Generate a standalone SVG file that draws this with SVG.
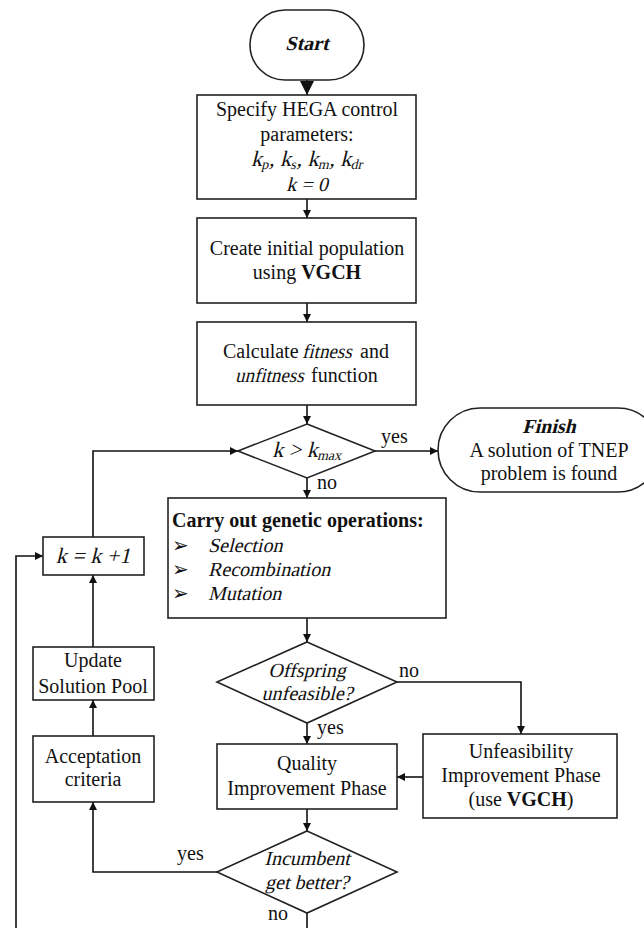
<svg xmlns="http://www.w3.org/2000/svg" width="644" height="928" viewBox="0 0 644 928" font-family="'Liberation Serif', 'DejaVu Serif', serif">
<defs>
<marker id="ah" viewBox="0 0 10 10" refX="10" refY="5" markerWidth="9" markerHeight="8" markerUnits="userSpaceOnUse" orient="auto"><path d="M0,0 L10,5 L0,10 z" fill="#111"/></marker>
<marker id="ahb" viewBox="0 0 10 10" refX="10" refY="5" markerWidth="14" markerHeight="14" markerUnits="userSpaceOnUse" orient="auto"><path d="M0,0 L10,5 L0,10 z" fill="#111"/></marker>
</defs>
<style>
.s{fill:#fff;stroke:#222;stroke-width:1.6}
.c{fill:none;stroke:#111;stroke-width:1.6;marker-end:url(#ah)}
.n{fill:none;stroke:#111;stroke-width:1.6}
text{font-family:'Liberation Serif','DejaVu Serif',serif;font-size:20px;fill:#111}
.m{text-anchor:middle}
.b{font-weight:bold}
.sub{font-size:14px}
.big{font-size:22px}
</style>
<rect width="644" height="928" fill="#fff"/>
<g id="connectors">
<line class="n" x1="307" y1="80" x2="307" y2="95" style="marker-end:url(#ahb)"/>
<line class="c" x1="307" y1="199" x2="307" y2="218"/>
<line class="c" x1="307" y1="303" x2="307" y2="322"/>
<line class="c" x1="307" y1="405" x2="307" y2="424"/>
<line class="c" x1="375" y1="451" x2="438" y2="451"/>
<line class="c" x1="307" y1="478" x2="307" y2="498"/>
<line class="c" x1="307" y1="618" x2="307" y2="642"/>
<path class="c" d="M397,682 H521 V734"/>
<line class="c" x1="307" y1="723" x2="307" y2="744"/>
<line class="c" x1="423" y1="777" x2="397" y2="777"/>
<line class="c" x1="307" y1="809" x2="307" y2="831"/>
<path class="c" d="M217,872 H93 V802"/>
<line class="c" x1="93" y1="736" x2="93" y2="700"/>
<line class="c" x1="93" y1="647" x2="93" y2="575"/>
<path class="c" d="M93,537 V451 H238"/>
<path class="c" d="M307,913 V945 H16 V556 H43"/>
<text x="381" y="443">yes</text>
<text x="317" y="489">no</text>
<text x="399" y="677">no</text>
<text x="317" y="734">yes</text>
<text x="177" y="860">yes</text>
<text x="268" y="920">no</text>
</g>
<g id="start">
<rect class="s" x="250" y="10" width="114" height="70" rx="35" ry="35"/>
<text class="m b" transform="translate(307,50) skewX(-14)">Start</text>
</g>
<g id="params">
<rect class="s" x="197" y="95" width="219" height="104"/>
<text class="m" x="307" y="116">Specify HEGA control</text>
<text class="m" x="307" y="141">parameters:</text>
<text class="m big" transform="translate(307,166) skewX(-14)">k<tspan class="sub" dy="3">p</tspan><tspan dy="-3">, k</tspan><tspan class="sub" dy="3">s</tspan><tspan dy="-3">, k</tspan><tspan class="sub" dy="3">m</tspan><tspan dy="-3">, k</tspan><tspan class="sub" dy="3">dr</tspan></text>
<text class="m" transform="translate(307,191) skewX(-14)">k = 0</text>
</g>
<g id="init">
<rect class="s" x="197" y="218" width="219" height="85"/>
<text class="m" x="307" y="255">Create initial population</text>
<text class="m" x="307" y="279">using <tspan class="b">VGCH</tspan></text>
</g>
<g id="fitness">
<rect class="s" x="197" y="322" width="219" height="83"/>
<text x="223" y="358">Calculate</text>
<text transform="translate(302,358) skewX(-14) scale(0.95,1)">fitness</text>
<text x="360" y="358">and</text>
<text transform="translate(235,382) skewX(-14) scale(0.95,1)">unfitness</text>
<text x="311" y="382">function</text>
</g>
<g id="kmax">
<polygon class="s" points="307,424 375,451 307,478 238,451"/>
<text class="m big" transform="translate(307,457) skewX(-14)">k &gt; k<tspan class="sub" dy="3">max</tspan></text>
</g>
<g id="finish">
<rect class="s" x="438" y="408" width="222" height="84" rx="42" ry="42"/>
<text class="m b" transform="translate(549,433) skewX(-14)">Finish</text>
<text class="m" x="549" y="457">A solution of TNEP</text>
<text class="m" x="549" y="480">problem is found</text>
</g>
<g id="genetic">
<rect class="s" x="168" y="498" width="278" height="120"/>
<text class="b" x="172" y="527">Carry out genetic operations:</text>
<text x="172" y="552">➢</text>
<text transform="translate(208,552) skewX(-14)">Selection</text>
<text x="172" y="576">➢</text>
<text transform="translate(208,576) skewX(-14)">Recombination</text>
<text x="172" y="600">➢</text>
<text transform="translate(208,600) skewX(-14)">Mutation</text>
</g>
<g id="offspring">
<polygon class="s" points="307,642 397,682 307,723 217,682"/>
<text class="m" transform="translate(307,677) skewX(-14)">Offspring</text>
<text class="m" transform="translate(307,700) skewX(-14)">unfeasible?</text>
</g>
<g id="unfeas">
<rect class="s" x="423" y="734" width="194" height="84"/>
<text class="m" x="521" y="758">Unfeasibility</text>
<text class="m" x="521" y="782">Improvement Phase</text>
<text class="m" x="521" y="806">(use <tspan class="b">VGCH</tspan>)</text>
</g>
<g id="quality">
<rect class="s" x="217" y="744" width="180" height="65"/>
<text class="m" x="307" y="770">Quality</text>
<text class="m" x="307" y="795">Improvement Phase</text>
</g>
<g id="incumbent">
<polygon class="s" points="307,831 397,872 307,913 217,872"/>
<text class="m" transform="translate(307,865) skewX(-14)">Incumbent</text>
<text class="m" transform="translate(307,889) skewX(-14)">get better?</text>
</g>
<g id="accept">
<rect class="s" x="33" y="736" width="121" height="66"/>
<text class="m" x="93" y="763">Acceptation</text>
<text class="m" x="93" y="786">criteria</text>
</g>
<g id="update">
<rect class="s" x="33" y="647" width="121" height="53"/>
<text class="m" x="93" y="667">Update</text>
<text class="m" x="93" y="693">Solution Pool</text>
</g>
<g id="kinc">
<rect class="s" x="43" y="537" width="101" height="38"/>
<text class="m big" transform="translate(93,563) skewX(-14)">k = k +1</text>
</g>
</svg>
